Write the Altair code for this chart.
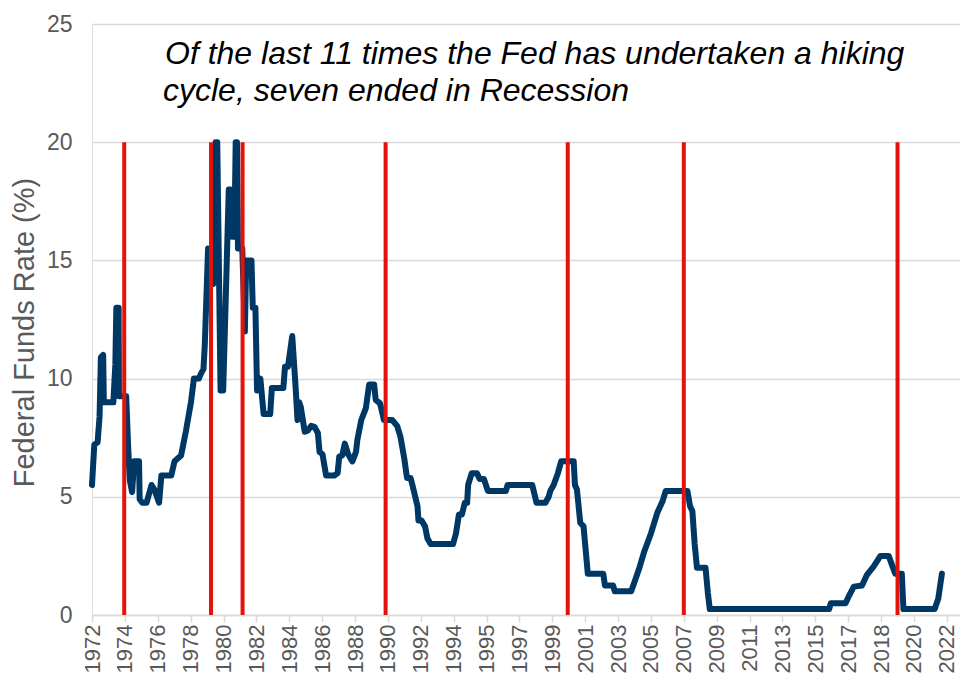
import altair as alt
import pandas as pd

# x positions are in "axis step" units: 0 = first label (1972), 1 = next label, ...
axis_labels = ["1972", "1974", "1976", "1978", "1980", "1982", "1984", "1986", "1988",
               "1990", "1992", "1994", "1995", "1997", "1999", "2001", "2003", "2005",
               "2007", "2009", "2011", "2013", "2015", "2017", "2018", "2020", "2022"]

pos = [0.00, 0.07, 0.17, 0.23, 0.27, 0.34, 0.36, 0.65, 0.71, 0.74, 0.81, 0.82, 1.04, 1.10,
       1.15, 1.22, 1.28, 1.43, 1.45, 1.53, 1.66, 1.81, 1.90, 2.04, 2.11, 2.41, 2.51, 2.71,
       2.86, 3.01, 3.10, 3.25, 3.31, 3.39, 3.43, 3.53, 3.69, 3.76, 3.81, 3.91, 3.99, 4.16,
       4.21, 4.26, 4.33, 4.37, 4.41, 4.44, 4.57, 4.65, 4.69, 4.85, 4.89, 4.97, 5.02, 5.12,
       5.22, 5.42, 5.47, 5.82, 5.87, 5.96, 6.09, 6.19, 6.25, 6.30, 6.35, 6.47, 6.56, 6.67,
       6.77, 6.87, 6.92, 7.01, 7.12, 7.37, 7.47, 7.52, 7.61, 7.69, 7.79, 7.92, 8.03, 8.07,
       8.19, 8.33, 8.43, 8.58, 8.63, 8.76, 8.88, 9.13, 9.28, 9.38, 9.50, 9.58, 9.69, 9.78,
       9.90, 9.93, 10.02, 10.13, 10.20, 10.30, 10.98, 11.07, 11.16, 11.25, 11.34, 11.41,
       11.44, 11.55, 11.71, 11.79, 11.92, 12.04, 12.59, 12.64, 13.39, 13.52, 13.79, 13.89,
       13.94, 14.04, 14.17, 14.27, 14.65, 14.69, 14.75, 14.85, 14.95, 15.08, 15.55, 15.60,
       15.85, 15.90, 16.40, 16.50, 16.65, 16.80, 17.00, 17.20, 17.35, 17.45, 18.11, 18.19,
       18.26, 18.33, 18.40, 18.66, 18.73, 18.79, 22.42, 22.47, 22.92, 23.02, 23.17, 23.42,
       23.57, 23.77, 23.98, 24.23, 24.43, 24.63, 24.68, 25.63, 25.74, 25.85]

rate = [5.5, 7.2, 7.3, 8.4, 10.9, 11.0, 9.0, 9.0, 10.6, 13.0, 13.0, 9.25, 9.25, 7.1,
        5.7, 5.2, 6.5, 6.5, 4.9, 4.75, 4.75, 5.5, 5.3, 4.75, 5.9, 5.9, 6.5, 6.75,
        7.8, 9.0, 10.0, 10.0, 10.2, 10.4, 11.4, 15.5, 14.0, 20.0, 20.0, 9.5, 9.5, 18.0,
        18.0, 16.0, 16.0, 20.0, 20.0, 15.5, 15.5, 12.0, 15.0, 15.0, 13.0, 13.0, 9.5, 10.0,
        8.5, 8.5, 9.6, 9.6, 10.5, 10.5, 11.8, 9.7, 8.25, 9.0, 8.8, 7.75, 7.8, 8.0,
        7.95, 7.7, 6.9, 6.8, 5.9, 5.9, 6.0, 6.7, 6.75, 7.25, 6.8, 6.5, 6.9, 7.4,
        8.25, 8.75, 9.75, 9.75, 9.1, 8.95, 8.25, 8.25, 8.0, 7.55, 6.6, 5.8, 5.8, 5.3,
        4.6, 4.0, 4.0, 3.75, 3.25, 3.0, 3.0, 3.45, 4.25, 4.25, 4.75, 4.75,
        5.5, 6.0, 6.0, 5.75, 5.75, 5.25, 5.25, 5.5, 5.5, 4.75, 4.75, 5.0,
        5.25, 5.5, 6.0, 6.5, 6.5, 5.5, 5.3, 3.9, 3.75, 1.75, 1.75, 1.25,
        1.25, 1.0, 1.0, 1.4, 2.0, 2.7, 3.45, 4.35, 4.8, 5.25, 5.25, 4.6,
        4.4, 3.0, 2.0, 2.0, 0.95, 0.25, 0.25, 0.5, 0.5, 0.8, 1.2, 1.25,
        1.7, 2.05, 2.5, 2.5, 1.75, 1.75, 0.25, 0.25, 0.7, 1.75]

recession_pos = [0.98, 3.62, 4.58, 8.93, 14.47, 18.00, 24.50]
recession_low = 0
recession_high = 20

title_lines = ["Of the last 11 times the Fed has undertaken a hiking",
               "cycle, seven ended in Recession"]

y_ticks = [0, 5, 10, 15, 20, 25]

FONT = "Liberation Sans"
GREY = "#595959"
GRID = "#d9d9d9"

df = pd.DataFrame({"pos": pos, "rate": rate})
rec = pd.DataFrame({"pos": recession_pos,
                    "lo": [recession_low] * len(recession_pos),
                    "hi": [recession_high] * len(recession_pos)})

label_expr = "[" + ",".join("'" + s + "'" for s in axis_labels) + "][round(datum.value)]"

x_scale = alt.Scale(domain=[0, 26.40], nice=False, zero=False)
y_scale = alt.Scale(domain=[0, 25], nice=False)

x_axis = alt.Axis(values=list(range(len(axis_labels))), labelExpr=label_expr,
                  labelAngle=270, labelFontSize=22, labelColor=GREY, labelFont=FONT,
                  labelPadding=2, labelOverlap=False, labelFlush=False, labelBound=False,
                  tickSize=7, tickColor=GRID, tickWidth=1.5,
                  domainColor=GRID, domainWidth=1.5, grid=False, title=None)

y_axis = alt.Axis(values=y_ticks, grid=True, gridColor=GRID, gridWidth=1.3,
                  domain=False, ticks=False, labelFontSize=23, labelColor=GREY,
                  labelFont=FONT, labelPadding=20, labelOverlap=False,
                  title="Federal Funds Rate (%)", titleFont=FONT, titleFontSize=29,
                  titleColor=GREY, titleFontWeight="normal", titleX=-68, titleY=308,
                  titleBaseline="middle", titleAngle=270)

line = alt.Chart(df).mark_line(color="#003865", strokeWidth=6, strokeJoin="round",
                               strokeCap="round").encode(
    x=alt.X("pos:Q", scale=x_scale, axis=x_axis),
    y=alt.Y("rate:Q", scale=y_scale, axis=y_axis),
)

rules = alt.Chart(rec).mark_rule(color="#E3120B", strokeWidth=4).encode(
    x=alt.X("pos:Q", scale=x_scale, axis=x_axis),
    y=alt.Y("lo:Q", scale=y_scale, axis=y_axis),
    y2="hi:Q",
)

t1 = alt.Chart(pd.DataFrame({"t": [title_lines[0]]})).mark_text(
    align="left", baseline="alphabetic", fontSize=32, fontStyle="italic", font=FONT,
    color="#000000").encode(x=alt.value(73), y=alt.value(39.5), text="t:N")
t2 = alt.Chart(pd.DataFrame({"t": [title_lines[1]]})).mark_text(
    align="left", baseline="alphabetic", fontSize=32, fontStyle="italic", font=FONT,
    color="#000000").encode(x=alt.value(71), y=alt.value(76.5), text="t:N")

chart = alt.layer(line, rules, t1, t2).properties(
    width=868, height=591,
    autosize=alt.AutoSizeParams(type="none"),
    padding={"left": 84, "top": 16, "right": 0, "bottom": 64},
).configure_view(strokeWidth=0, strokeOpacity=0).configure(background="white")

chart.save("out.html", embed_options={"renderer": "svg", "actions": False})
